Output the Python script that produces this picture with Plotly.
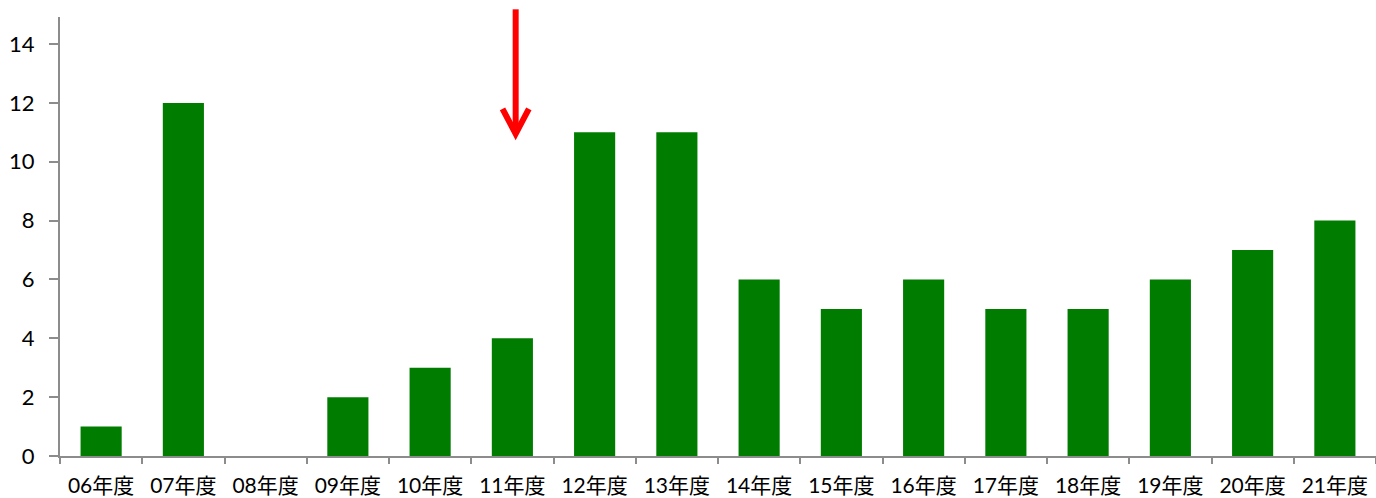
import plotly.graph_objects as go

categories = ["06年度", "07年度", "08年度", "09年度", "10年度", "11年度", "12年度", "13年度",
              "14年度", "15年度", "16年度", "17年度", "18年度", "19年度", "20年度", "21年度"]
values = [1, 12, 0, 2, 3, 4, 11, 11, 6, 5, 6, 5, 5, 6, 7, 8]
y_ticks = [0, 2, 4, 6, 8, 10, 12, 14]
y_max = 14.92

arrow_category_index = 5.04
arrow_tip_value = 10.9

fig = go.Figure()
fig.add_trace(go.Bar(x=categories, y=values, marker=dict(color="#007d00", line=dict(width=0)),
                     width=0.5))

axis_color = "#8c8c8c"
font_family = "Lato, 'Noto Sans CJK JP', sans-serif"

# Arrow shaft (extends above plot area) and chevron head
fig.add_shape(type="line", xref="x", yref="paper", x0=arrow_category_index, x1=arrow_category_index,
              y0=1.0175, y1=(arrow_tip_value + 0.25) / y_max,
              line=dict(color="#ff0000", width=6), layer="above")
fig.add_shape(type="path", xref="x", yref="y",
              path=(f"M {arrow_category_index - 0.16} {arrow_tip_value + 0.9} "
                    f"L {arrow_category_index} {arrow_tip_value + 0.05} "
                    f"L {arrow_category_index + 0.16} {arrow_tip_value + 0.9}"),
              line=dict(color="#ff0000", width=6), layer="above")

fig.update_layout(
    width=1376, height=498,
    margin=dict(l=60, r=0, t=17, b=42),
    paper_bgcolor="white", plot_bgcolor="white",
    showlegend=False,
    font=dict(family=font_family, size=21, color="#000000"),
    bargap=0.5,
)
fig.update_xaxes(
    type="category", showgrid=False, showline=True, linecolor=axis_color, linewidth=2,
    ticks="outside", tickson="boundaries", ticklen=6, tickcolor=axis_color, tickwidth=2,
    tickfont=dict(size=21), range=[-0.5, 15.5], ticklabelstandoff=10,
)
fig.update_yaxes(
    range=[0, y_max], tickvals=y_ticks, showgrid=False, zeroline=False,
    showline=True, linecolor=axis_color, linewidth=2,
    ticks="outside", ticklen=9, tickcolor=axis_color, tickwidth=2,
    tickfont=dict(size=22), ticklabelstandoff=10,
)

fig.write_html("out.html")
